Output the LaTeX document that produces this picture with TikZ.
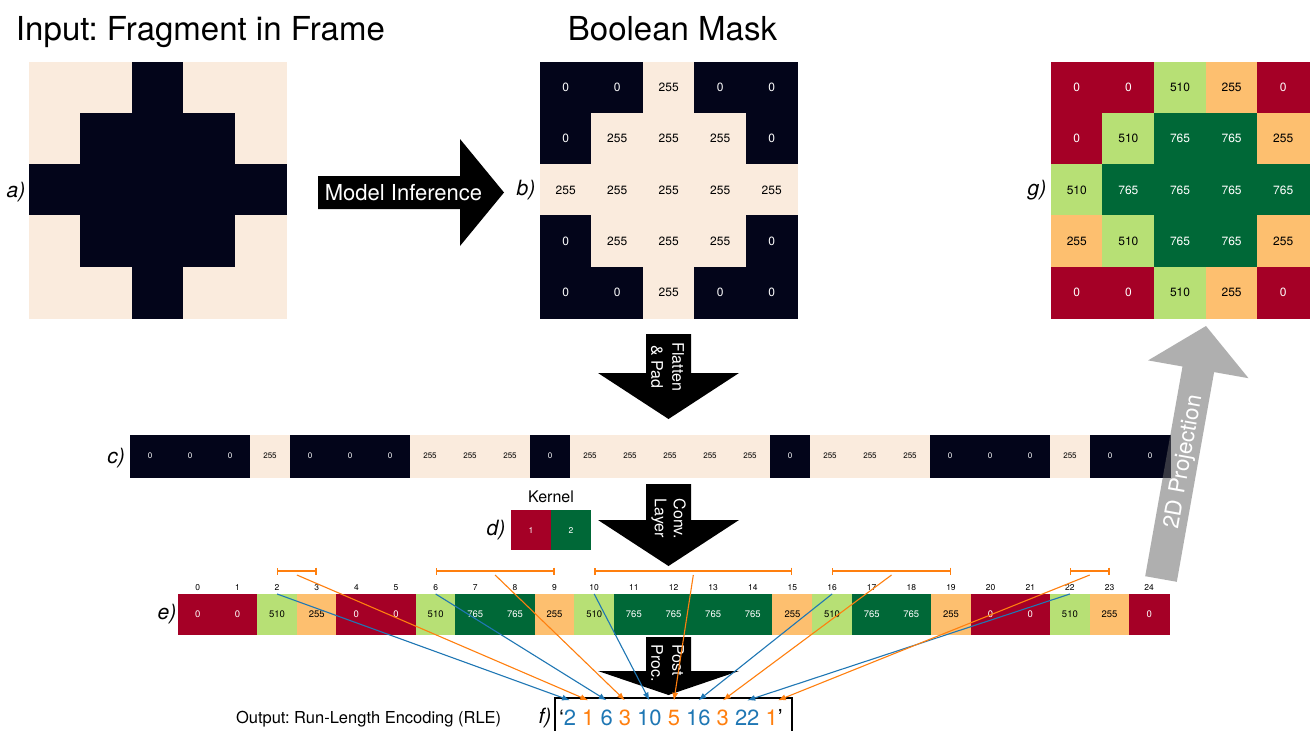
\documentclass[tikz,border=0pt]{standalone}
\usepackage{fontspec}
\setmainfont{TeX Gyre Heros}
\usetikzlibrary{arrows.meta,calc}
\frenchspacing
\definecolor{dk}{HTML}{03051A}
\definecolor{lt}{HTML}{FAEBDD}
\definecolor{cR}{HTML}{A50026}
\definecolor{cO}{HTML}{FDBF6F}
\definecolor{cL}{HTML}{B7E075}
\definecolor{cG}{HTML}{006837}
\definecolor{tbl}{HTML}{1F77B4}
\definecolor{tor}{HTML}{FF7F0E}
\definecolor{pg}{HTML}{676767}
\newcommand\fsz[1]{\fontsize{#1}{#1}\selectfont}
\newcommand\setheat[1]{%
  \ifnum#1=0 \def\fc{cR}\def\tc{white}\fi
  \ifnum#1=255 \def\fc{cO}\def\tc{black}\fi
  \ifnum#1=510 \def\fc{cL}\def\tc{black}\fi
  \ifnum#1=765 \def\fc{cG}\def\tc{white}\fi}
\newcommand\setmask[1]{%
  \ifnum#1=0 \def\fc{dk}\def\tc{white}\else\def\fc{lt}\def\tc{black}\fi}
\newcommand\blockdown[4]{%
  \fill[black] (#1-22.5,#2) -- (#1+22.5,#2) -- (#1+22.5,#3) -- (#1+70.5,#3) -- (#1,#4) -- (#1-70.5,#3) -- (#1-22.5,#3) -- cycle;}
\begin{document}
\begin{tikzpicture}[x=1pt,y=-1pt,
  every node/.style={inner sep=0pt,outer sep=0pt},
  bigcell/.style={minimum width=51.5pt,minimum height=51.2pt,line width=0.4pt,font=\fsz{12}},
  ccell/.style={minimum width=40pt,minimum height=42pt,line width=0.4pt,font=\fsz{8}},
  ecell/.style={minimum width=39.64pt,minimum height=40pt,line width=0.4pt,font=\fsz{9.5}},
  kcell/.style={minimum width=40pt,minimum height=40pt,font=\fsz{8.5},text=white},
  idx/.style={font=\fsz{8.5}},
  lbl/.style={font=\itshape\fsz{21}},
  wtxt/.style={text=white},
  fdig/.style={font=\fsz{22},inner xsep=0pt,inner ysep=9pt},
  brk/.style={draw=tor,line width=1.3pt,{Bar[width=7pt]}-{Bar[width=7pt]}},
  bconn/.style={draw=tbl,line width=1.1pt,-{Latex[length=8pt,width=6pt]}},
  oconn/.style={draw=tor,line width=1.1pt,-{Latex[length=8pt,width=6pt]}}]
\useasboundingbox (0,0) rectangle (1310,731);
\fill[white] (0,0) rectangle (1310,731);

% titles
\node[anchor=base west,font=\fsz{33}] (t1) at (16,40) {Input: Fragment in Frame};
\node[anchor=base,font=\fsz{33}] (t2) at (672.5,40) {Boolean Mask};

% a) grid
\foreach \v [count=\i from 0] in {0,0,1,0,0, 0,1,1,1,0, 1,1,1,1,1, 0,1,1,1,0, 0,0,1,0,0} {
  \pgfmathtruncatemacro\rr{floor(\i/5)}
  \pgfmathtruncatemacro\cc{\i-5*\rr}
  \ifnum\v=1 \def\fc{dk}\else\def\fc{lt}\fi
  \node[bigcell,fill=\fc,draw=\fc] (a-\rr-\cc) at ({29+(\cc+0.5)*51.5},{62+(\rr+0.5)*51.2}) {};
}
% b) grid
\foreach \v [count=\i from 0] in {0,0,255,0,0, 0,255,255,255,0, 255,255,255,255,255, 0,255,255,255,0, 0,0,255,0,0} {
  \pgfmathtruncatemacro\rr{floor(\i/5)}
  \pgfmathtruncatemacro\cc{\i-5*\rr}
  \setmask{\v}
  \node[bigcell,fill=\fc,draw=\fc,text=\tc] (b-\rr-\cc) at ({540+(\cc+0.5)*51.5},{62+(\rr+0.5)*51.2}) {\v};
}
% g) grid
\foreach \v [count=\i from 0] in {0,0,510,255,0, 0,510,765,765,255, 510,765,765,765,765, 255,510,765,765,255, 0,0,510,255,0} {
  \pgfmathtruncatemacro\rr{floor(\i/5)}
  \pgfmathtruncatemacro\cc{\i-5*\rr}
  \setheat{\v}
  \node[bigcell,fill=\fc,draw=\fc,text=\tc] (g-\rr-\cc) at ({1051+(\cc+0.5)*51.6},{62+(\rr+0.5)*51.2}) {\v};
}

% labels
\node[lbl] (la) at (16,192) {a)};
\node[lbl] (lb) at (526,190) {b)};
\node[lbl] (lg) at (1037,190) {g)};
\node[lbl] (lc) at (116,458) {c)};
\node[lbl] (ld) at (496,530) {d)};
\node[lbl] (le) at (167,614) {e)};
\node[lbl] (lf) at (545,718) {f)};

% model inference arrow
\fill[black] (318,176) -- (460,176) -- (460,139) -- (504,192.5) -- (460,246) -- (460,209) -- (318,209) -- cycle;
\node[wtxt,font=\fsz{22}] (mi) at (403.5,193) {Model Inference};

% flatten & pad
\blockdown{668.5}{334}{373}{419}
\node[wtxt,font=\fontsize{16}{21}\selectfont,rotate=-90,align=center] (fp) at (667.5,367) {Flatten\\\& Pad};

% c) row
\foreach \v [count=\i from 0] in {0,0,0,255,0,0,0,255,255,255,0,255,255,255,255,255,0,255,255,255,0,0,0,255,0,0} {
  \setmask{\v}
  \node[ccell,fill=\fc,draw=\fc,text=\tc] (c-\i) at ({130+(\i+0.5)*40},456) {\v};
}

% conv layer
\blockdown{668.5}{484}{520}{566}
\node[wtxt,font=\fontsize{16}{19}\selectfont,rotate=-90,align=left] (cl) at (668.5,519) {Conv.\\Layer};

% kernel
\node[font=\fsz{16}] (kt) at (551,497) {Kernel};
\node[kcell,fill=cR] (k1) at (531,530) {1};
\node[kcell,fill=cG] (k2) at (571,530) {2};

% e) row
\foreach \v [count=\i from 0] in {0,0,510,255,0,0,510,765,765,255,510,765,765,765,765,255,510,765,765,255,0,0,510,255,0} {
  \setheat{\v}
  \node[ecell,fill=\fc,draw=\fc,text=\tc] (e-\i) at ({178+(\i+0.5)*39.64},614) {\v};
  \node[idx] (i-\i) at ({178+(\i+0.5)*39.64},587.5) {\i};
}
% run brackets
\foreach \a/\b [count=\k] in {2/3,6/9,10/15,16/19,22/23} {
  \draw[brk] ($(e-\a.center)+(0,-43)$) -- ($(e-\b.center)+(0,-43)$);
  \coordinate (om-\k) at ($(e-\a.center)!0.5!(e-\b.center)+(0,-39)$);
}

% post proc
\blockdown{668.5}{637}{671}{695}
\node[wtxt,font=\fontsize{16}{21}\selectfont,rotate=-90,align=left] (pp) at (667.5,663) {Post\\Proc.};

% output box and digits
\node[draw,line width=1.2pt,minimum width=237pt,minimum height=60pt,anchor=north west] (fbox) at (555,698) {};
\node[anchor=base west,font=\fsz{16.5}] (out) at (236,723) {Output: Run-Length Encoding (RLE)};
\node[fdig,anchor=base west] (fq0) at (559,725) {‘};
\node[fdig,anchor=base west,text=tbl] (f1) at (fq0.base east) {2};
\node[fdig,anchor=base west,text=tor] (f2) at ([xshift=6.1pt]f1.base east) {1};
\node[fdig,anchor=base west,text=tbl] (f3) at ([xshift=6.1pt]f2.base east) {6};
\node[fdig,anchor=base west,text=tor] (f4) at ([xshift=6.1pt]f3.base east) {3};
\node[fdig,anchor=base west,text=tbl] (f5) at ([xshift=6.1pt]f4.base east) {10};
\node[fdig,anchor=base west,text=tor] (f6) at ([xshift=6.1pt]f5.base east) {5};
\node[fdig,anchor=base west,text=tbl] (f7) at ([xshift=6.1pt]f6.base east) {16};
\node[fdig,anchor=base west,text=tor] (f8) at ([xshift=6.1pt]f7.base east) {3};
\node[fdig,anchor=base west,text=tbl] (f9) at ([xshift=6.1pt]f8.base east) {22};
\node[fdig,anchor=base west,text=tor] (f10) at ([xshift=6.1pt]f9.base east) {1};
\node[fdig,anchor=base west] (fq1) at (f10.base east) {’};

% connectors
\draw[bconn] (e-2.north) -- (f1.north);
\draw[bconn] (e-6.north) -- (f3.north);
\draw[bconn] (e-10.north) -- (f5.north);
\draw[bconn] (e-16.north) -- (f7.north);
\draw[bconn] (e-22.north) -- (f9.north);
\draw[oconn] (om-1) -- (f2.north);
\draw[oconn] (om-2) -- (f4.north);
\draw[oconn] (om-3) -- (f6.north);
\draw[oconn] (om-4) -- (f8.north);
\draw[oconn] (om-5) -- (f10.north east);

% 2D projection arrow
\fill[pg,fill opacity=0.52] (1145.2,576.2) -- (1182.5,366.5) -- (1148.1,360.4) -- (1206,326) -- (1248.5,378.2) -- (1214.1,372.1) -- (1176.8,581.8) -- cycle;
\node[wtxt,rotate=79.9,font=\fsz{22.5}] (proj) at (1184,462) {2D Projection};
\end{tikzpicture}
\end{document}
